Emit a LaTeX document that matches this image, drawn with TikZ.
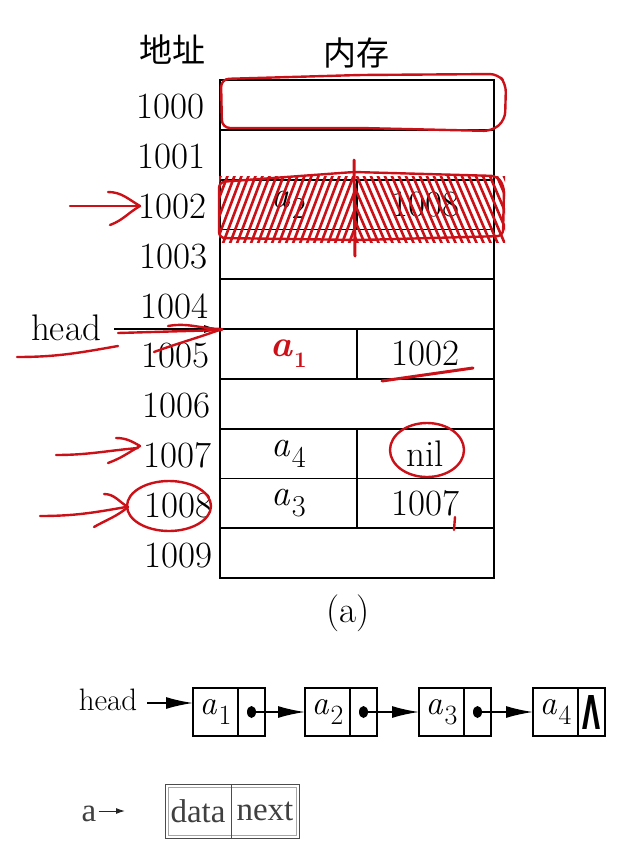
\documentclass[tikz,border=0pt]{standalone}
\usepackage{fontspec}
\newfontfamily\cjk{Noto Sans CJK SC}
\newfontfamily\dejavu{DejaVu Sans}
\newfontfamily\tms{Liberation Serif}
\usetikzlibrary{arrows.meta,calc}
\definecolor{ink}{RGB}{204,16,24}
\newcommand{\asub}[2]{\textit{#1}\kern1.5pt\raisebox{-0.3em}{\scalebox{0.82}{#2}}}
\begin{document}
\begin{tikzpicture}[x=1pt,y=-1pt,
  tbl/.style={line width=1.8pt},
  big/.style={font=\fontsize{37}{40}\selectfont, inner sep=0pt},
  med/.style={font=\fontsize{31}{34}\selectfont, inner sep=0pt},
  cell/.style={draw, line width=1.8pt, minimum width=274pt, minimum height=49.8pt, inner sep=0pt, outer sep=0pt, anchor=north west},
  redline/.style={draw=ink, line width=2.4pt, line cap=round, line join=round},
  lbox/.style={draw, line width=1.4pt, minimum height=48pt, inner sep=0pt, outer sep=0pt, anchor=north west, font=\fontsize{34}{36}\selectfont},
  larrow/.style={line width=1.6pt, -{Latex[length=27pt,width=12pt]}},
]
\useasboundingbox (0,0) rectangle (626,849);

% headers
\node[inner sep=0pt, font=\cjk\fontsize{33}{36}\selectfont] (hdA) at (172,50) {地址};
\node[inner sep=0pt, font=\cjk\fontsize{33}{36}\selectfont] (hdM) at (356,53) {内存};

% memory table
\foreach \i in {0,...,9}{
  \node[cell] (r\i) at (220,{80+49.8*\i}) {};
  \node[big,anchor=east] (ad\i) at ({205+0.9*\i},{107+49.8*\i}) {100\i};
}
\foreach \i in {2,5,7,8} \draw[tbl] (r\i.north) -- (r\i.south);

\node[big] (c2l) at ($(r2.west)!0.25!(r2.east)$) {\asub{a}{2}};
\node[big] (c2r) at ($(r2.west)!0.75!(r2.east)$) {1008};
\node[big,text=ink] (c5l) at ($(r5.west)!0.25!(r5.east)$) {\textbf{\textit{a}}\kern1pt\raisebox{-0.3em}{\scalebox{0.6}{\textbf{1}}}};
\node[big] (c5r) at ($(r5.west)!0.75!(r5.east)$) {1002};
\node[big] (c7l) at ($(r7.west)!0.25!(r7.east)$) {\asub{a}{4}};
\node[big] (c7r) at ($(r7.west)!0.75!(r7.east)$) {nil};
\node[big] (c8l) at ($(r8.west)!0.25!(r8.east)$) {\asub{a}{3}};
\node[big] (c8r) at ($(r8.west)!0.75!(r8.east)$) {1007};

% head pointer (top)
\node[big] (headA) at (66,328) {head};
\coordinate (hs) at ([xshift=13pt]headA.east);
\draw[line width=1.6pt, -{Latex[length=16pt,width=8pt]}] (hs |- r5.north west) -- (r5.north west);

\node[big] (cap) at (348,613) {(a)};

% ---------- red annotations ----------
\draw[redline, rounded corners=8pt] (222,128) -- (221,79) -- (360,75) -- (498,74) -- (506,84) -- (505,120) -- (492,131) -- (360,128) -- cycle;
\begin{scope}
  \clip (219,176) rectangle (356,242);
  \foreach \k in {0,...,22} \draw[redline, line width=2.6pt] ({194+\k*7},246) -- ({222+\k*7},172);
\end{scope}
\begin{scope}
  \clip (356,176) rectangle (505,242);
  \foreach \k in {-5,...,22} \draw[redline, line width=2.6pt] ({356+\k*7},174) -- ({386+\k*7},244);
\end{scope}
\draw[redline, rounded corners=6pt] (219,182) -- (354,172) -- (497,176) -- (504,186) -- (503,236) -- (360,240) -- (219,238) -- cycle;
\draw[redline, line width=3pt] (354,160) -- (355,256);

% red arrow to 1002
\draw[redline] (70,206) -- (138,206);
\draw[redline] (108,192) to[out=0,in=150] (140,206) to[out=210,in=20] (110,225);
% red arrow to head target
\draw[redline] (118,333) -- (222,330);
\draw[redline] (168,326) to[out=10,in=180] (222,329) to[out=200,in=20] (154,352);
\draw[redline] (17,357) to[out=0,in=190] (118,346);
% underline 1002
\draw[redline, line width=3pt] (382,381) -- (473,368);
% nil circle
\draw[redline] (427,450) ellipse (37pt and 27pt);
% arrow to 1007
\draw[redline] (56,455) to[out=0,in=185] (138,448);
\draw[redline] (116,438) to[out=0,in=150] (140,446) to[out=210,in=20] (108,463);
% arrow to 1008
\draw[redline] (40,516) to[out=0,in=190] (126,507);
\draw[redline] (104,494) to[out=0,in=150] (128,507) to[out=220,in=30] (94,527);
\draw[redline] (169,506) ellipse (42pt and 25pt);
% tick under 7
\draw[redline] (455,517) -- (454,530);

% ---------- linked list ----------
\node[med] (headB) at (108,700) {head};
\node[lbox,minimum width=45pt] (n1d) at (193,688) {\asub{a}{1}};
\node[lbox,minimum width=27pt] (n1p) at (n1d.north east) {};
\node[lbox,minimum width=45pt] (n2d) at (305,688) {\asub{a}{2}};
\node[lbox,minimum width=27pt] (n2p) at (n2d.north east) {};
\node[lbox,minimum width=45pt] (n3d) at (419,688) {\asub{a}{3}};
\node[lbox,minimum width=27pt] (n3p) at (n3d.north east) {};
\node[lbox,minimum width=45pt] (n4d) at (533,688) {\asub{a}{4}};
\node[lbox,minimum width=27pt] (n4p) at (n4d.north east) {};
\node[inner sep=0pt] (lam) at (n4p.center) {\resizebox{18pt}{34pt}{\dejavu\bfseries Λ}};

\coordinate (hb) at ([yshift=9pt]n1d.west);
\coordinate (hbs) at ([xshift=10pt]headB.east);
\draw[larrow] (hbs |- hb) -- (hb);
\foreach \a/\b in {1/2,2/3,3/4}{
  \fill (n\a p.center) ellipse (4.5pt and 6pt);
  \draw[larrow] (n\a p.center) -- (n\b d.west);
}

% ---------- data / next ----------
\node[inner sep=0pt, font=\tms\fontsize{33}{36}\selectfont, text=black!75] (aa) at (89,814) {a};
\coordinate (aend) at (125,811);
\coordinate (astart) at ([xshift=2pt]aa.east);
\draw[line width=1pt, gray!30!black, -{Latex[length=9pt,width=6pt]}] (astart |- aend) -- (aend);
\node[inner sep=0pt, outer sep=0pt, minimum width=66pt, minimum height=54pt, anchor=north west, font=\tms\fontsize{33}{36}\selectfont, text=black!75] (dd) at (165,784) {data};
\node[inner sep=0pt, outer sep=0pt, minimum width=68pt, minimum height=54pt, anchor=north west, font=\tms\fontsize{33}{36}\selectfont, text=black!75] (nx) at (231,784) {next};
\draw[gray!60!black, line width=0.9pt] (dd.north west) rectangle (nx.south east);
\draw[gray!70, line width=0.8pt] ([shift={(3pt,-3pt)}]dd.north west) rectangle ([shift={(-3pt,3pt)}]nx.south east);
\draw[gray!60!black, line width=0.9pt] (dd.north east) -- (dd.south east);
\end{tikzpicture}
\end{document}
